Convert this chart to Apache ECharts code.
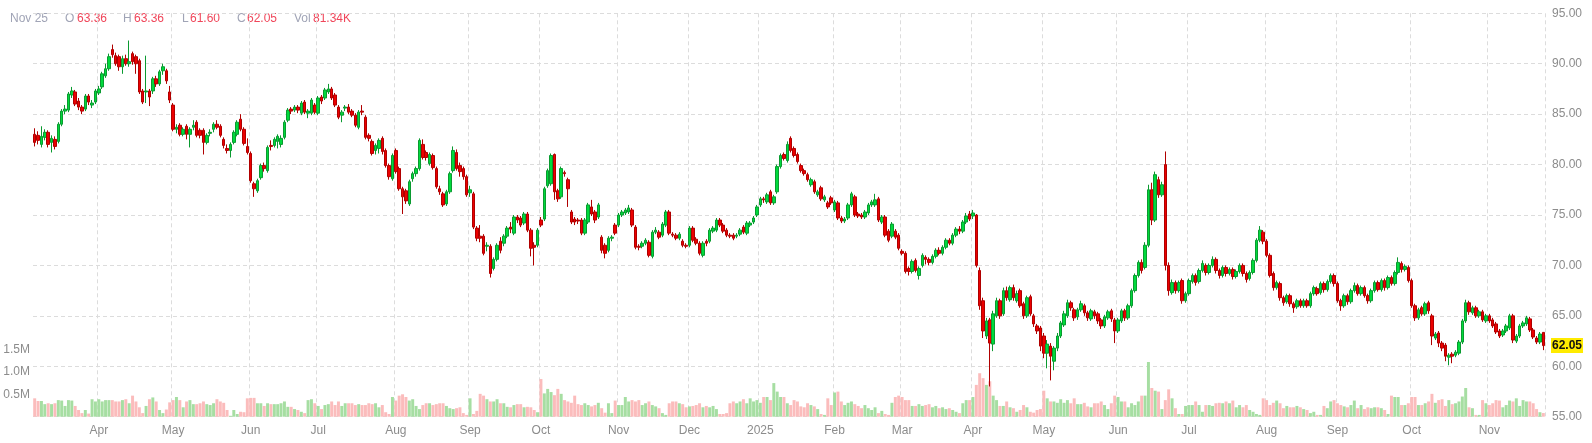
<!DOCTYPE html>
<html>
<head>
<meta charset="utf-8">
<script src="https://cdn.jsdelivr.net/npm/echarts@6/dist/echarts.min.js"></script>
<style>
html,body{margin:0;padding:0;background:#ffffff;}
#chart{width:1592px;height:443px;}
</style>
</head>
<body>
<div id="chart"></div>
<script>
// ---- calendar of trading days ----
const startDate = '2024-03-05';
const endDate = '2025-11-25';
const holidays = ['2024-12-25', '2025-01-01', '2025-04-18'];
const monthNames = ['Jan','Feb','Mar','Apr','May','Jun','Jul','Aug','Sep','Oct','Nov','Dec'];

// ---- price axis ----
const priceMin = 55, priceMax = 95, priceStep = 5;
// ---- volume axis (thousands of shares) ----
const volMax = 9000, volStep = 500;
const volLabels = [500, 1000, 1500];

// ---- daily candles [open, close, low, high] by month ----
const mar24 = [[83.0,82.2,81.8,83.6],[82.9,82.4,82.0,83.3],[82.0,82.8,81.7,83.8],[82.7,83.2,82.4,83.5],[83.2,82.0,81.7,83.4],[82.2,82.6,81.2,82.9],[82.5,81.8,81.5,82.8],[82.3,84.0,82.1,84.2],[84.0,85.3,83.8,85.5],[85.3,85.5,85.0,85.9],[85.4,87.0,85.2,87.2],[86.9,87.3,86.6,87.7],[87.2,86.0,85.8,87.4],[86.3,85.7,85.4,86.6],[85.7,85.3,85.0,85.9],[85.5,86.8,85.3,87.0],[86.8,86.2,85.9,87.0],[85.9,86.1,85.6,86.4],[86.2,87.3,86.0,87.5]];
const apr24 = [[87.1,87.5,86.9,87.8],[87.7,89.0,87.5,89.2],[88.8,89.5,88.6,90.0],[89.5,90.7,89.3,91.0],[91.4,90.9,90.6,91.9],[90.8,90.0,89.8,91.1],[90.7,89.7,89.3,90.9],[89.7,90.5,89.0,90.8],[90.5,90.0,89.8,90.9],[90.0,90.2,89.7,92.3],[91.0,90.2,89.9,91.2],[90.7,90.0,89.0,90.9],[90.3,87.2,87.0,90.5],[87.3,86.2,86.0,87.5],[87.2,87.3,86.1,90.8],[87.3,86.7,85.8,87.5],[87.3,88.5,87.0,88.7],[88.5,88.0,87.7,88.8],[88.0,89.2,87.8,89.4],[89.3,89.7,88.9,90.0],[89.3,88.3,88.0,89.5],[87.2,86.4,86.1,87.8]];
const may24 = [[85.9,83.5,83.3,86.1],[83.5,83.7,83.1,84.0],[83.9,83.0,82.8,84.1],[83.0,83.5,82.8,83.7],[83.8,83.0,82.5,84.0],[83.0,83.5,81.7,83.7],[83.7,83.9,83.4,84.4],[84.2,82.9,82.7,84.4],[83.4,82.9,82.6,83.6],[83.4,82.2,81.0,83.6],[82.2,82.9,82.0,83.1],[83.1,83.2,82.8,83.5],[83.5,84.0,83.2,84.2],[84.0,83.7,83.5,84.4],[83.8,82.9,82.7,84.0],[82.5,81.9,81.6,82.7],[81.6,81.4,81.1,82.0],[81.4,82.0,80.7,82.2],[82.2,83.2,82.0,83.4],[83.0,84.2,82.8,84.4],[84.5,83.5,83.3,85.0],[83.5,82.1,81.9,83.7],[81.8,81.2,81.0,82.6]];
const jun24 = [[81.1,78.4,78.2,81.3],[78.1,77.6,76.8,78.3],[77.4,78.4,77.2,78.6],[78.7,79.9,78.5,80.1],[79.9,79.6,79.3,80.2],[79.4,81.7,79.2,81.9],[81.9,81.8,81.4,82.4],[81.9,82.5,81.7,82.7],[82.3,82.8,81.6,83.0],[82.0,82.6,81.7,82.9],[82.7,84.2,82.5,84.4],[84.4,85.4,84.2,85.6],[85.5,85.3,85.0,85.7],[85.4,85.7,85.2,85.9],[85.7,85.4,85.1,85.9],[85.1,86.1,84.9,86.3],[86.2,85.2,85.0,86.4],[85.1,85.3,84.6,85.5],[85.1,86.4,84.9,86.6],[85.9,85.2,85.0,86.1]];
const jul24 = [[85.1,86.6,84.9,86.8],[86.7,86.3,86.0,86.9],[86.6,87.4,86.4,87.6],[87.2,87.5,87.0,88.0],[87.5,86.6,86.4,87.7],[86.9,85.9,85.7,87.1],[85.7,84.7,84.5,85.9],[84.9,85.2,84.2,85.4],[85.6,85.7,85.3,85.9],[85.7,85.2,85.0,86.0],[85.3,84.9,84.7,85.5],[84.9,83.9,83.7,85.1],[83.7,85.2,83.5,85.4],[85.3,85.2,84.9,85.9],[84.7,82.7,82.5,84.9],[82.9,82.6,82.3,83.1],[82.3,81.1,80.9,82.5],[81.4,81.9,81.0,82.1],[81.6,82.4,81.1,82.6],[82.6,81.3,81.0,82.8],[81.4,79.9,79.7,81.6],[79.9,78.8,78.5,80.1],[78.6,80.9,78.4,81.1]];
const aug24 = [[81.4,79.3,79.1,81.6],[79.6,77.6,77.4,79.8],[77.6,76.8,75.1,77.8],[77.4,76.4,76.1,77.6],[76.1,78.3,75.9,78.5],[78.6,79.1,78.3,79.3],[79.1,79.6,78.8,79.8],[79.6,82.4,79.4,82.6],[82.0,80.7,80.5,82.5],[81.2,80.7,80.4,81.4],[80.1,81.0,79.9,81.2],[80.9,79.7,79.5,81.1],[79.6,77.8,77.6,79.8],[77.6,77.3,77.0,77.9],[77.1,76.0,75.8,77.3],[76.1,77.3,75.9,77.5],[77.3,79.1,77.1,79.3],[79.4,81.4,79.2,81.8],[81.2,79.6,79.4,81.5],[79.9,79.3,78.8,80.2],[79.6,78.8,78.5,79.8],[78.8,77.0,76.8,79.0]];
const sep24 = [[77.2,77.5,76.8,77.9],[77.1,73.8,73.6,77.3],[73.7,72.7,72.4,73.9],[72.9,72.7,72.3,74.0],[72.9,71.2,71.0,73.1],[71.9,72.0,71.4,72.3],[71.9,69.2,68.8,72.1],[69.7,70.6,69.5,70.8],[70.6,72.0,70.4,72.2],[72.4,71.5,71.2,72.8],[72.2,72.9,71.9,73.1],[72.9,73.7,72.7,73.9],[73.8,73.6,73.2,74.3],[73.2,74.8,73.0,75.0],[74.8,74.5,74.2,75.0],[74.7,74.0,73.8,74.9],[74.2,75.1,74.0,75.3],[75.1,73.5,73.3,75.3],[73.5,71.7,70.9,73.7],[72.0,71.8,70.0,72.3],[72.0,73.5,71.8,73.7]];
const oct24 = [[74.5,74.0,73.8,74.8],[74.6,77.6,74.4,77.8],[77.9,79.4,77.7,79.6],[78.1,80.9,77.9,81.1],[81.0,77.3,76.5,81.1],[77.4,76.6,76.3,77.6],[76.8,79.6,76.6,79.8],[79.2,79.1,78.8,79.4],[78.5,77.6,75.8,78.7],[75.3,74.3,74.1,75.5],[74.6,74.3,74.0,74.8],[74.5,74.4,74.1,74.7],[74.5,73.2,73.0,74.7],[73.2,74.5,73.0,74.7],[74.3,76.0,74.1,76.2],[75.8,75.1,74.9,76.5],[75.3,74.5,74.2,75.5],[74.8,76.0,74.6,76.2],[72.8,71.5,71.2,73.0],[72.0,71.2,70.7,72.2],[71.5,72.7,71.3,72.9],[72.7,72.8,72.4,73.0],[74.0,73.2,73.0,74.2]];
const nov24 = [[74.0,75.0,73.8,75.2],[75.0,75.3,74.8,75.5],[75.2,75.5,75.0,75.7],[75.3,75.7,75.1,76.0],[75.5,74.0,73.8,75.7],[73.8,71.8,71.6,74.0],[71.9,71.8,71.5,72.1],[71.9,72.2,71.7,72.4],[72.2,72.5,72.0,72.7],[72.3,71.0,70.8,72.5],[70.9,73.3,70.7,73.5],[73.3,73.5,73.1,73.8],[73.3,72.8,72.6,73.5],[73.0,74.1,72.8,74.3],[74.0,75.3,73.8,75.5],[75.3,73.2,73.0,75.5],[73.1,73.0,72.8,73.3],[73.0,72.7,72.5,73.2],[72.7,73.1,72.5,73.3],[72.4,72.0,71.8,72.6],[72.0,71.9,71.7,72.2]];
const dec24 = [[72.0,73.7,71.8,73.9],[73.7,72.5,72.3,73.9],[72.6,72.2,72.0,72.8],[72.2,71.2,71.0,72.4],[71.0,72.2,70.8,72.4],[72.4,72.2,71.9,72.6],[72.4,73.5,72.2,73.7],[73.4,73.7,73.2,73.9],[73.5,74.5,73.3,74.7],[74.5,74.0,73.8,74.7],[74.0,73.4,73.2,74.2],[73.5,73.0,72.8,73.7],[73.0,72.9,72.7,73.2],[73.0,72.7,72.5,73.2],[72.9,73.0,72.7,73.2],[73.1,73.5,72.9,73.7],[73.8,73.3,73.1,74.0],[73.2,74.2,73.0,74.4],[74.0,74.2,73.8,74.4],[74.3,74.7,74.1,74.9],[75.0,75.8,74.8,76.0]];
const jan25 = [[76.0,76.6,75.8,76.8],[76.6,76.5,76.2,76.8],[76.3,77.0,76.1,77.2],[77.3,76.2,76.0,77.5],[76.2,76.8,76.0,77.0],[77.3,79.8,77.1,80.0],[79.8,80.9,79.6,81.1],[81.0,80.6,80.4,81.2],[80.4,82.0,80.2,82.3],[82.6,81.4,81.2,82.8],[81.6,80.9,80.7,81.8],[81.0,80.3,80.1,81.2],[79.9,79.4,79.2,80.1],[79.4,79.1,78.9,79.6],[79.0,78.5,78.3,79.2],[78.0,78.5,77.8,78.7],[78.3,77.3,77.1,78.5],[77.0,77.3,76.8,77.5],[77.7,76.6,76.4,77.9],[76.5,76.8,76.3,77.0],[76.2,75.8,75.6,76.4],[76.7,76.2,76.0,76.9]];
const feb25 = [[75.5,76.3,75.3,76.5],[76.2,74.7,74.5,76.4],[74.7,74.4,74.2,74.9],[74.4,74.6,74.2,74.8],[74.7,76.0,74.5,76.2],[76.0,77.1,75.8,77.3],[76.8,75.0,74.8,77.0],[75.1,74.9,74.7,75.3],[75.0,74.8,74.6,75.2],[74.8,75.3,74.6,75.5],[75.2,76.0,75.0,76.2],[76.0,76.3,75.8,76.5],[76.0,76.5,75.8,77.1],[76.6,74.5,74.3,76.8],[74.3,74.8,74.1,75.0],[74.8,73.0,72.8,75.0],[73.4,72.5,72.3,73.6],[72.9,74.1,72.7,74.3],[73.4,72.8,72.6,73.6],[73.0,71.7,71.5,73.2]];
const mar25 = [[71.4,71.2,71.0,71.6],[71.2,69.4,69.2,71.4],[69.7,69.4,69.0,69.9],[69.4,70.4,69.2,70.6],[70.5,69.5,69.3,70.7],[69.0,69.7,68.6,69.9],[70.0,71.0,69.8,71.2],[70.8,70.6,70.1,71.0],[70.6,70.3,70.0,70.8],[70.3,70.9,70.1,71.1],[70.9,71.5,70.7,71.7],[71.5,71.2,71.0,71.8],[71.2,71.8,71.0,72.0],[71.8,72.5,71.6,72.7],[72.5,72.2,72.0,72.7],[72.2,73.0,72.0,73.2],[73.0,73.6,72.8,73.8],[73.6,73.4,73.1,73.9],[73.4,74.3,73.2,74.5],[74.3,74.9,74.1,75.2],[75.1,74.6,74.4,75.4]];
const apr25 = [[74.9,75.2,74.6,75.5],[75.0,70.0,69.8,75.1],[69.5,66.0,65.6,69.8],[66.5,63.5,62.8,66.8],[63.0,64.5,62.7,64.8],[64.6,62.3,58.0,64.8],[62.2,65.2,61.5,65.5],[65.0,66.5,64.8,66.8],[66.5,65.0,64.7,66.7],[65.2,67.5,65.0,67.8],[67.5,66.8,66.5,67.9],[66.6,67.8,66.4,68.0],[67.8,66.8,66.5,68.1],[66.5,67.2,66.3,67.5],[67.5,66.0,65.8,67.7],[66.2,65.0,64.7,66.4],[65.0,66.8,64.8,67.0],[66.9,65.2,65.0,67.1],[65.0,64.2,63.9,65.2],[64.0,63.5,63.2,64.2],[63.8,62.0,61.5,64.0]];
const may25 = [[63.0,61.3,60.8,63.3],[61.3,62.2,59.8,62.6],[62.0,61.0,58.6,62.3],[60.5,61.8,59.6,62.0],[61.8,63.0,61.5,63.3],[63.0,64.3,62.8,64.5],[64.1,65.2,63.9,65.5],[65.0,66.3,64.8,66.6],[66.3,65.8,65.5,66.5],[65.6,64.8,64.5,65.8],[64.9,65.6,64.6,65.8],[65.6,66.2,65.4,66.5],[66.0,65.3,65.0,66.2],[65.3,64.8,64.5,65.5],[64.7,65.5,64.5,65.7],[65.4,65.0,64.7,65.6],[65.2,64.5,64.2,65.4],[64.6,64.0,63.7,64.8],[64.0,64.9,63.8,65.1],[64.8,65.4,64.6,65.6],[65.5,64.7,64.4,65.7],[64.6,63.5,62.3,64.8]];
const jun25 = [[63.5,64.6,63.3,64.8],[64.5,65.5,64.3,65.7],[65.5,64.8,64.5,65.7],[64.8,66.0,64.6,66.2],[66.0,67.5,65.8,67.7],[67.5,69.0,67.3,69.2],[69.0,70.3,68.8,70.5],[70.3,69.5,69.2,70.6],[69.8,72.0,69.6,72.3],[72.0,77.5,71.8,78.0],[77.5,74.5,74.0,78.2],[74.5,79.0,74.3,79.3],[78.5,77.0,76.7,78.8],[77.0,78.0,76.8,78.3],[80.0,70.0,69.5,81.3],[70.0,67.5,67.0,70.3],[67.3,68.3,67.1,68.6],[68.3,67.5,67.2,68.5],[67.5,68.3,67.3,68.5],[68.5,66.5,66.2,68.7],[66.5,67.2,66.3,67.4]];
const jul25 = [[67.2,68.5,67.0,68.7],[68.4,69.0,68.2,69.2],[69.0,68.3,68.0,69.2],[68.4,69.5,68.2,69.7],[69.5,70.2,69.3,70.5],[70.0,69.3,69.0,70.2],[69.3,70.0,69.1,70.2],[70.0,70.6,69.8,70.9],[70.6,69.5,69.2,70.8],[69.5,69.0,68.7,69.7],[69.0,69.8,68.8,70.0],[69.8,69.2,68.9,70.0],[69.2,69.6,69.0,69.8],[69.6,68.9,68.6,69.8],[68.9,69.4,68.7,69.6],[69.4,70.0,69.2,70.2],[70.0,69.2,68.9,70.2],[69.2,68.6,68.3,69.4],[68.7,69.3,68.5,69.5],[69.3,70.5,69.1,70.7],[70.5,72.5,70.3,72.7],[72.5,73.5,72.3,73.9],[73.3,72.4,72.1,73.5]];
const aug25 = [[72.4,71.0,70.8,72.6],[71.0,69.0,68.8,71.2],[69.2,67.8,67.5,69.4],[67.8,68.3,67.6,68.5],[68.2,66.8,66.5,68.4],[66.8,66.3,66.0,67.0],[66.4,67.0,66.2,67.2],[67.0,66.2,65.9,67.2],[66.2,65.8,65.3,66.4],[65.9,66.5,65.7,66.7],[66.5,66.0,65.8,66.7],[66.0,66.5,65.8,66.7],[66.5,66.0,65.8,66.7],[66.0,67.2,65.8,67.4],[67.2,67.8,67.0,68.0],[67.7,67.2,67.0,67.9],[67.3,68.2,67.1,68.4],[68.2,67.6,67.3,68.4],[67.6,68.4,67.4,68.6],[68.4,69.0,68.2,69.2],[69.0,68.2,67.9,69.2]];
const sep25 = [[68.2,66.5,66.3,68.4],[66.5,66.0,65.5,66.7],[66.0,67.0,65.8,67.2],[67.0,66.4,66.1,67.2],[66.4,67.5,66.2,67.7],[67.5,68.0,67.3,68.3],[68.0,67.2,67.0,68.2],[67.2,67.8,67.0,68.0],[67.8,67.0,66.8,68.0],[67.0,66.5,66.2,67.2],[66.5,67.5,66.3,67.7],[67.5,68.3,67.3,68.5],[68.3,67.6,67.4,68.5],[67.6,68.5,67.4,68.7],[68.5,67.8,67.5,68.7],[67.8,68.8,67.6,69.0],[68.8,68.2,68.0,69.0],[68.2,69.3,68.0,69.5],[69.3,70.3,69.1,70.8],[70.2,69.6,69.3,70.4],[69.6,69.9,69.4,70.1],[69.8,68.5,68.3,70.0]];
const oct25 = [[68.5,66.0,65.8,68.7],[66.0,64.8,64.5,66.2],[64.8,65.6,64.6,65.8],[65.8,65.2,65.0,66.0],[65.2,66.2,65.0,66.4],[66.3,65.5,65.2,66.5],[65.0,63.0,62.1,65.2],[62.8,63.2,62.6,63.4],[63.3,62.3,61.9,63.5],[62.3,61.8,61.5,62.5],[62.1,61.0,60.5,62.3],[60.9,61.1,60.1,61.3],[61.2,61.0,60.3,61.4],[61.1,61.4,60.9,61.6],[61.3,62.4,61.1,62.6],[62.4,64.5,62.2,64.7],[64.5,66.3,64.3,66.6],[66.3,65.4,65.1,66.5],[65.3,65.8,65.1,66.0],[65.8,65.0,64.8,66.0],[65.0,65.4,64.8,65.6],[65.4,64.6,64.4,65.6],[64.5,65.0,64.3,65.2]];
const nov25 = [[65.0,64.5,64.3,65.2],[64.6,64.0,63.8,64.8],[64.2,63.4,63.2,64.4],[63.5,63.0,62.8,63.7],[63.1,63.5,62.9,63.7],[63.5,64.0,63.3,64.2],[63.8,65.0,63.6,65.2],[65.0,62.6,62.3,65.2],[62.5,63.0,62.3,63.2],[63.0,64.0,62.8,64.2],[64.0,64.3,63.8,64.5],[64.2,64.8,64.0,65.0],[64.7,63.6,63.4,64.9],[63.6,62.9,62.7,63.8],[62.8,62.4,62.2,63.0],[62.4,63.2,62.2,63.4],[63.36,62.05,61.60,63.36]];

// ---- daily volume (thousands) by month ----
const volMar24 = [410,350,350,280,300,280,300,370,360,240,370,360,240,150,80,150,70,390,340];
const volApr24 = [390,340,370,370,370,340,340,370,390,300,470,340,210,80,240,390,430,340,150,80,160,320];
const volMay24 = [370,440,370,210,340,370,280,280,300,340,280,260,300,390,340,310,150,20,150,60,110,100,410];
const volJun24 = [420,420,300,300,240,300,280,280,280,300,340,220,220,170,150,110,80,370,390,300];
const volJul24 = [240,170,260,280,340,260,340,240,300,300,300,260,280,260,260,300,280,300,210,260,100,60,440];
const volAug24 = [360,470,500,440,360,390,240,170,260,300,300,260,280,300,300,240,190,170,190,210,80,40];
const volSep24 = [410,60,130,510,470,390,340,340,390,300,300,220,210,260,280,280,210,220,210,150,100];
const volOct24 = [840,520,620,550,480,620,510,370,340,310,470,280,260,300,260,230,260,310,190,90,300,80,360];
const volNov24 = [260,260,440,340,370,340,370,260,300,340,260,230,190,80,40,300,340,340,300,280,210];
const volDec24 = [230,240,260,300,210,240,210,240,170,60,60,80,300,340,300,340,390,300,410,340,370];
const volJan25 = [310,440,440,370,750,560,440,440,300,260,370,340,230,210,300,260,230,170,60,40,410,260];
const volFeb25 = [540,560,340,260,310,340,280,240,190,260,190,150,210,80,130,60,40,310,440,470];
const volMar25 = [440,370,370,240,240,280,240,260,280,210,240,190,210,170,190,150,110,80,300,370,370];
const volApr25 = [440,710,970,860,710,790,470,370,240,240,340,210,190,110,150,260,210,110,90,150,170];
const volMay25 = [580,410,340,340,310,390,310,370,300,410,280,280,310,230,210,300,300,340,260,170,300,470];
const volJun25 = [440,340,340,210,300,260,340,470,470,1220,640,580,560,170,370,610,410,190,60,60,240];
const volJul25 = [260,260,340,260,110,260,260,240,300,310,300,340,300,360,210,260,210,260,150,110,60,40,410];
const volAug25 = [370,260,310,360,300,190,240,210,210,240,210,170,150,80,110,40,40,240,190,340,370];
const volSep25 = [300,260,230,210,260,360,190,260,170,210,190,210,210,190,150,60,470,440,440,260,260,300];
const volOct25 = [440,440,260,260,300,340,510,310,370,390,240,370,280,300,340,450,640,210,190,40,40,370,300];
const volNov25 = [260,300,370,360,210,260,360,340,410,240,370,340,340,300,170,100,81.34];

// ---- assemble ----
const candles = [].concat(mar24,apr24,may24,jun24,jul24,aug24,sep24,oct24,nov24,dec24,jan25,feb25,mar25,apr25,may25,jun25,jul25,aug25,sep25,oct25,nov25);
const volumes = [].concat(volMar24,volApr24,volMay24,volJun24,volJul24,volAug24,volSep24,volOct24,volNov24,volDec24,volJan25,volFeb25,volMar25,volApr25,volMay25,volJun25,volJul25,volAug25,volSep25,volOct25,volNov25);

function tradingDays() {
  const out = [];
  let d = new Date(startDate + 'T00:00:00Z');
  const e = new Date(endDate + 'T00:00:00Z');
  while (d <= e) {
    const w = d.getUTCDay();
    const s = d.toISOString().slice(0, 10);
    if (w !== 0 && w !== 6 && holidays.indexOf(s) < 0) out.push(s);
    d = new Date(d.getTime() + 86400000);
  }
  return out;
}
const dates = tradingDays();

const monthStart = new Set();
for (let i = 1; i < dates.length; i++) {
  if (dates[i].slice(5, 7) !== dates[i - 1].slice(5, 7)) monthStart.add(i);
}
const isMonthStart = (i) => monthStart.has(i);

const upColor = '#00da3c', upBorder = '#0a9a30';
const downColor = '#ec0000', downBorder = '#b00000';
const volUp = '#a6dea2', volDown = '#fbbcbc';

const volData = volumes.map((v, i) => ({
  value: v,
  itemStyle: { color: candles[i][1] >= candles[i][0] ? volUp : volDown }
}));

const last = candles[candles.length - 1];
const lastDate = dates[dates.length - 1];
const lastVol = volumes[volumes.length - 1];
const legendDate = monthNames[parseInt(lastDate.slice(5, 7), 10) - 1] + ' ' + parseInt(lastDate.slice(8, 10), 10);
const valColor = last[1] >= last[0] ? '#22aa44' : '#f0465a';
const labColor = '#a0a4b6';
const fontFam = 'Liberation Sans, Arial, sans-serif';

function legendText(x, text, color) {
  return { type: 'text', left: x, top: 13, silent: true,
    style: { text: text, fill: color, font: '12px ' + fontFam } };
}

const chart = echarts.init(document.getElementById('chart'), null, { renderer: 'canvas' });
chart.setOption({
  animation: false,
  backgroundColor: '#ffffff',
  textStyle: { fontFamily: fontFam },
  grid: { left: 33, right: 47, top: 13.3, bottom: 26.3 },
  graphic: [
    legendText(10, legendDate, labColor),
    legendText(65, 'O', labColor), legendText(77, last[0].toFixed(2), valColor),
    legendText(123, 'H', labColor), legendText(134, last[3].toFixed(2), valColor),
    legendText(182, 'L', labColor), legendText(190, last[2].toFixed(2), valColor),
    legendText(237, 'C', labColor), legendText(247, last[1].toFixed(2), valColor),
    legendText(294, 'Vol', labColor), legendText(313, lastVol.toFixed(2) + 'K', valColor)
  ],
  xAxis: {
    type: 'category',
    data: dates,
    boundaryGap: true,
    axisLine: { show: false },
    axisTick: { show: false },
    axisLabel: {
      interval: (i) => isMonthStart(i),
      formatter: (v) => {
        const m = parseInt(v.slice(5, 7), 10);
        return m === 1 ? v.slice(0, 4) : monthNames[m - 1];
      },
      color: '#8c8c8c', fontSize: 12, margin: 8, fontFamily: fontFam
    },
    splitLine: {
      show: true,
      interval: (i) => isMonthStart(i),
      lineStyle: { color: '#dcdcdc', type: [4, 3], width: 1 }
    }
  },
  yAxis: [
    {
      type: 'value', position: 'right', min: priceMin, max: priceMax, interval: priceStep,
      axisLine: { show: false }, axisTick: { show: false },
      axisLabel: { formatter: (v) => v.toFixed(2), color: '#8c8c8c', fontSize: 12, margin: 7, fontFamily: fontFam },
      splitLine: { show: true, lineStyle: { color: '#dcdcdc', type: [4, 3], width: 1 } }
    },
    {
      type: 'value', position: 'left', min: 0, max: volMax, interval: volStep,
      axisLine: { show: false }, axisTick: { show: false },
      axisLabel: {
        formatter: (v) => volLabels.indexOf(v) >= 0 ? (v / 1000).toFixed(1) + 'M' : '',
        color: '#8c8c8c', fontSize: 12, margin: 3, fontFamily: fontFam
      },
      splitLine: { show: false }
    }
  ],
  series: [
    {
      type: 'bar', yAxisIndex: 1, data: volData, barCategoryGap: '12%', silent: true, z: 1
    },
    {
      type: 'candlestick', yAxisIndex: 0, data: candles, barWidth: '88%', z: 3,
      itemStyle: { color: upColor, color0: downColor, borderColor: upBorder, borderColor0: downBorder, borderWidth: 1 },
      markLine: {
        silent: true, symbol: 'none', animation: false,
        lineStyle: { color: 'rgba(0,0,0,0)', width: 0 },
        data: [{ yAxis: last[1] }],
        label: {
          show: true, position: 'end', distance: 6,
          formatter: () => last[1].toFixed(2),
          backgroundColor: '#ffeb00', color: '#111111', fontSize: 12, fontWeight: 'bold',
          padding: [2, 1, 1, 1], fontFamily: fontFam, opacity: 1
        }
      }
    }
  ]
});
</script>
</body>
</html>
